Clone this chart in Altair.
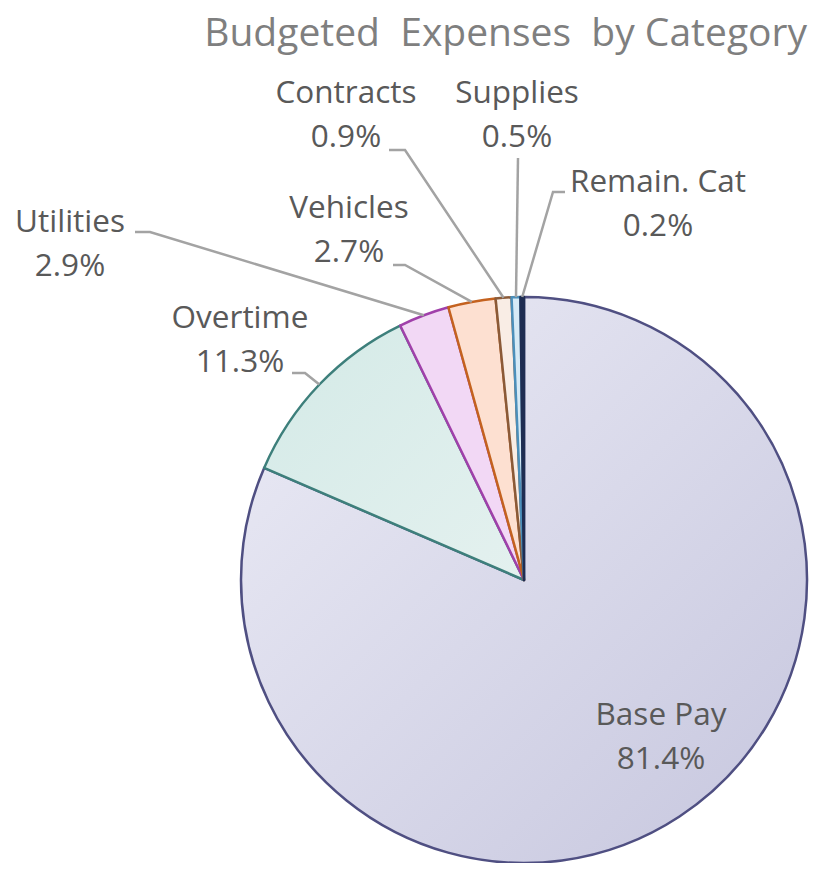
import math
import altair as alt
import pandas as pd

# ---------------- data ----------------
categories = ["Base Pay", "Overtime", "Utilities", "Vehicles", "Contracts", "Supplies", "Remain. Cat"]
percents = [81.4, 11.3, 2.9, 2.7, 0.9, 0.5, 0.2]
fill_colors = ["#dcdcec", "#dbedeb", "#f2d8f5", "#fde0d1", "#f9ede5", "#d6eaf6", "#1f2d52"]
stroke_colors = ["#4f4f82", "#3d7f7b", "#a040aa", "#c4621f", "#8a5a38", "#4b8fba", "#1f2d52"]
TITLE = "Budgeted\u00a0\u00a0Expenses\u00a0\u00a0by Category"

# ---------------- layout (page pixels) ----------------
PT = 10                 # top padding inside the svg
W, H = 807, 855 - PT
TOP = 8 + PT            # page y of the plot area's top edge
CX, CY, R = 524, 580, 283
label_pos = {  # centre x, first baseline y
    "Base Pay": (661, 725),
    "Overtime": (240, 328),
    "Utilities": (70, 232),
    "Vehicles": (349, 218),
    "Contracts": (346, 103),
    "Supplies": (517, 103),
    "Remain. Cat": (658, 192),
}
leader_pts = {  # from the label toward the pie; the rim point is derived from the data
    "Overtime": [(292, 373), (305, 373)],
    "Utilities": [(135, 232), (150, 232)],
    "Vehicles": [(393, 265), (405, 265)],
    "Contracts": [(389, 150), (405, 150)],
    "Supplies": [(518, 158)],
    "Remain. Cat": [(565, 192), (553, 192)],
}


def ux(px):
    return (px - CX) / R


def uy(py):
    return (CY - py) / R


xscale = alt.Scale(domain=[ux(8), ux(8 + W)], nice=False, zero=False)
yscale = alt.Scale(domain=[uy(TOP + H), uy(TOP)], nice=False, zero=False)

pie_df = pd.DataFrame({
    "category": categories,
    "value": percents,
    "order": list(range(len(categories))),
})

total = sum(percents)
cum = 0.0
line_rows = []
text_rows = []
for cat, v in zip(categories, percents):
    mid = (cum + v / 2) / total * 2 * math.pi
    cum += v
    lx, ly = label_pos[cat]
    text_rows.append({"category": cat, "label": f"{cat}\n{v:.1f}%", "x": ux(lx), "y": uy(ly)})
    if cat in leader_pts:
        pts = [(ux(px), uy(py)) for px, py in leader_pts[cat]]
        pts.append((math.sin(mid), math.cos(mid)))
        for i, (x, y) in enumerate(pts):
            line_rows.append({"category": cat, "seq": i, "x": x, "y": y})

line_df = pd.DataFrame(line_rows)
text_df = pd.DataFrame(text_rows)
title_df = pd.DataFrame({"t": [TITLE]})

base_grad = {
    "gradient": "linear", "x1": 0, "y1": 0, "x2": 1, "y2": 1,
    "stops": [{"offset": 0, "color": "#ececf6"}, {"offset": 1, "color": "#c6c6de"}],
}
ot_grad = {
    "gradient": "linear", "x1": 0, "y1": 0, "x2": 1, "y2": 1,
    "stops": [{"offset": 0, "color": "#d4eae7"}, {"offset": 1, "color": "#e4f1ef"}],
}

pie = alt.Chart(pie_df).mark_arc(radius=R, strokeWidth=2.5, strokeJoin="round").encode(
    theta=alt.Theta("value:Q", stack=True),
    order=alt.Order("order:Q"),
    x=alt.XDatum(0, type="quantitative", scale=xscale, axis=None),
    y=alt.YDatum(0, type="quantitative", scale=yscale, axis=None),
    fill=alt.Fill(
        "category:N",
        scale=alt.Scale(domain=categories, range=fill_colors),
        legend=None,
        condition=[
            {"test": "datum.category === 'Base Pay'", "value": base_grad},
            {"test": "datum.category === 'Overtime'", "value": ot_grad},
        ],
    ),
    stroke=alt.Stroke("category:N", scale=alt.Scale(domain=categories, range=stroke_colors), legend=None),
)

leaders = alt.Chart(line_df).mark_line(color="#a3a3a3", strokeWidth=2.5).encode(
    x=alt.X("x:Q", scale=xscale, axis=None),
    y=alt.Y("y:Q", scale=yscale, axis=None),
    detail="category:N",
    order="seq:Q",
)

labels = alt.Chart(text_df).mark_text(
    font="Open Sans", fontSize=31.5, color="#595959", align="center",
    baseline="alphabetic", lineBreak="\n", lineHeight=44,
).encode(
    x=alt.X("x:Q", scale=xscale, axis=None),
    y=alt.Y("y:Q", scale=yscale, axis=None),
    text="label:N",
)

title = alt.Chart(title_df).mark_text(
    font="Open Sans", fontSize=39, color="#7f7f7f", align="right", baseline="alphabetic",
).encode(
    x=alt.value(W - 8),
    y=alt.value(46 - TOP),
    text="t:N",
)

chart = alt.layer(pie, leaders, labels, title).properties(
    width=W, height=H,
    padding={"top": PT, "left": 0, "right": 0, "bottom": 0},
    autosize=alt.AutoSizeParams(type="none"),
).configure_view(stroke=None)

chart.save("out.html", embed_options={"renderer": "svg", "actions": False})
